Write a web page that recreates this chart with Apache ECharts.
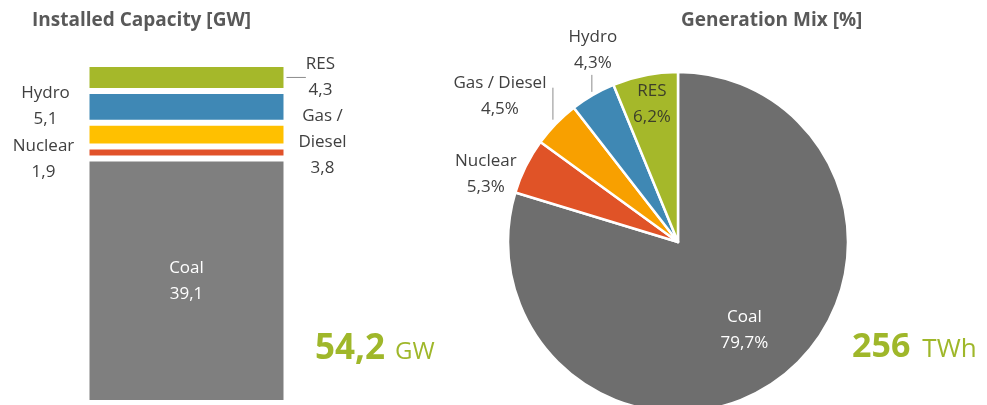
<!DOCTYPE html>
<html>
<head>
<meta charset="utf-8">
<style>
html,body{margin:0;padding:0;background:#fff;}
#chart{width:987px;height:405px;}
</style>
<script src="https://cdn.jsdelivr.net/npm/echarts@6/dist/echarts.min.js"></script>
</head>
<body>
<div id="chart"></div>
<script>
// ---- data ----
const capNames = ['Coal', 'Nuclear', 'Gas /\nDiesel', 'Hydro', 'RES'];
const capValues = [39.1, 1.9, 3.8, 5.1, 4.3];
const capTotalText = '54,2';
const capUnit = 'GW';
const genNames = ['Coal', 'Nuclear', 'Gas / Diesel', 'Hydro', 'RES'];
const genValues = [79.7, 5.3, 4.5, 4.3, 6.2];
const genTotalText = '256';
const genUnit = 'TWh';
const titleLeft = 'Installed Capacity [GW]';
const titleRight = 'Generation Mix [%]';

// ---- styles ----
const FONT = 'Open Sans';
const barColors = ['#7f7f7f', '#e1522a', '#ffc000', '#3f88b5', '#a5b82a'];
const pieColors = ['#6e6e6e', '#e05327', '#f8a000', '#3f88b4', '#a5b82a'];
const GREEN = '#9fb72a';
const TXT = '#404040';
const LBL = 17;
const comma = v => String(v).replace('.', ',');

const capTotal = capValues.reduce((a, b) => a + b, 0);

// bar label placement (relative to each bar segment)
const barLabelCfg = [
  { position: 'inside', color: '#fff', offset: [0, 0] },
  { position: [-43, '50%'], color: TXT, offset: [0, 7] },
  { position: [236, '50%'], color: TXT, offset: [0, 7] },
  { position: [-41, '50%'], color: TXT, offset: [0, -1] },
  { position: [234, '50%'], color: TXT, offset: [0, -2] }
];

const barSeries = capValues.map((v, i) => ({
  type: 'bar',
  name: capNames[i],
  stack: 'cap',
  data: [v],
  barWidth: '100%',
  itemStyle: { color: barColors[i], borderColor: '#fff', borderWidth: 3 },
  label: {
    show: true,
    position: barLabelCfg[i].position,
    offset: barLabelCfg[i].offset,
    align: 'center',
    verticalAlign: 'middle',
    color: barLabelCfg[i].color,
    fontFamily: FONT,
    fontSize: LBL,
    lineHeight: 26,
    formatter: () => capNames[i] + '\n' + comma(v)
  },
  labelLine: i === 4 ? { show: true, lineStyle: { color: '#8c8c8c', width: 1 } } : { show: false },
  labelLayout: i === 4 ? function (p) {
    const r = p.rect;
    const y = r.y + r.height / 2 - 1;
    const x0 = r.x + r.width + 3;
    return { labelLinePoints: [[x0, y], [x0 + 10, y], [x0 + 10, y]] };
  } : null,
  emphasis: { disabled: true },
  animation: false
}));

const chart = echarts.init(document.getElementById('chart'), null, { renderer: 'canvas' });

chart.setOption({
  animation: false,
  title: [
    { text: titleLeft, left: 32, top: 11, padding: 0, textStyle: { fontFamily: FONT, fontSize: 19, fontWeight: 'bold', color: '#595959' } },
    { text: titleRight, left: 681, top: 11, padding: 0, textStyle: { fontFamily: FONT, fontSize: 19, fontWeight: 'bold', color: '#595959' } },
    {
      text: '{a|' + capTotalText + '}{b|' + capUnit + '}', left: 315, top: 332, padding: 0,
      textStyle: { rich: {
        a: { fontFamily: FONT, fontSize: 35, fontWeight: 'bold', color: GREEN },
        b: { fontFamily: FONT, fontSize: 24, fontWeight: 'normal', color: GREEN, padding: [6, 0, 0, 10] }
      } }
    },
    {
      text: '{a|' + genTotalText + '}{b|' + genUnit + '}', left: 852, top: 330, padding: 0,
      textStyle: { rich: {
        a: { fontFamily: FONT, fontSize: 34, fontWeight: 'bold', color: GREEN },
        b: { fontFamily: FONT, fontSize: 26, fontWeight: 'normal', color: GREEN, padding: [5, 0, 0, 12] }
      } }
    }
  ],
  grid: { left: 86.5, width: 200, top: 64, bottom: 2 },
  xAxis: { type: 'category', data: ['cap'], show: false },
  yAxis: { type: 'value', min: 0, max: capTotal, show: false },
  series: barSeries.concat([{
    type: 'pie',
    center: [678, 242],
    radius: 170,
    startAngle: 90,
    clockwise: true,
    avoidLabelOverlap: false,
    data: genValues.map((v, i) => ({
      name: genNames[i],
      value: v,
      itemStyle: { color: pieColors[i] },
      label: (i === 0 || i === 4) ? { position: 'inside', color: i === 0 ? '#fff' : '#3d3f2a' } : { position: 'outside', color: TXT },
      labelLine: { show: !(i === 0 || i === 4), length: 10, length2: 0 }
    })),
    itemStyle: { borderColor: '#fff', borderWidth: 2.5 },
    label: {
      show: true,
      fontFamily: FONT,
      fontSize: LBL,
      lineHeight: 26,
      formatter: p => p.name + '\n' + comma(p.value) + '%'
    },
    labelLine: { lineStyle: { color: '#8c8c8c', width: 1 } },
    labelLayout: function (p) {
      const i = p.dataIndex;
      if (i === 0 || i === 4) {
        const cx = p.labelRect.x + p.labelRect.width / 2;
        const cy = p.labelRect.y + p.labelRect.height / 2;
        const d = i === 0 ? [14, 17] : [-9, -52];
        return { x: cx + d[0], y: cy + d[1], align: 'center', verticalAlign: 'middle' };
      }
      const e = p.labelLinePoints ? p.labelLinePoints[0] : [p.rect.x, p.rect.y];
      if (i === 1) {
        return { x: e[0] - 40, y: e[1] + 7.5, align: 'center', verticalAlign: 'middle',
          labelLinePoints: [e, e, e] };
      }
      if (i === 2) {
        const lx = e[0] - 3;
        return { x: e[0] - 56, y: e[1] - 28, align: 'center', verticalAlign: 'middle',
          labelLinePoints: [[lx, e[1] - 4], [lx, e[1] - 36], [lx, e[1] - 36]] };
      }
      const lx = e[0] - 1;
      return { x: e[0], y: e[1] - 44.5, align: 'center', verticalAlign: 'middle',
        labelLinePoints: [[lx, e[1] - 3], [lx, e[1] - 20], [lx, e[1] - 20]] };
    },
    emphasis: { disabled: true },
    animation: false
  }])
});
</script>
</body>
</html>
